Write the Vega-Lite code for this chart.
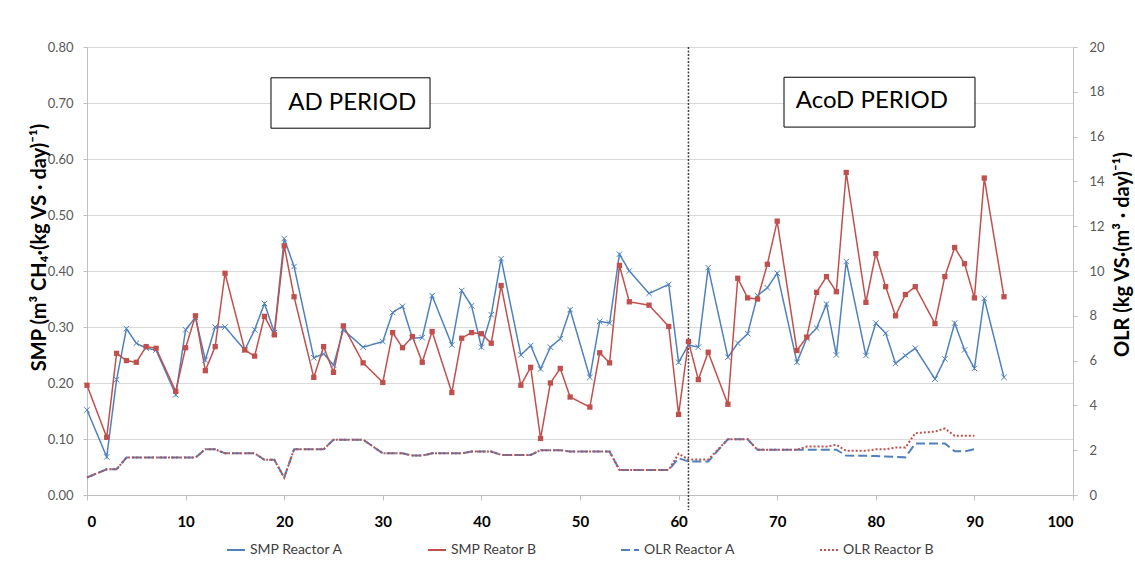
{
  "$schema": "https://vega.github.io/schema/vega-lite/v6.json",
  "width": 986,
  "height": 448,
  "autosize": {"type": "none"},
  "padding": {"left": 87, "top": 47, "right": 62, "bottom": 88},
  "background": "white",
  "config": {
    "view": {"stroke": null},
    "font": "Lato",
    "axis": {"labelFont": "Lato", "titleFont": "Lato", "domainColor": "#BFBFBF", "tickColor": "#BFBFBF", "gridColor": "#D9D9D9", "labelColor": "#595959"}
  },
  "datasets": {
    "smp": [
      {"day": 0, "SMP Reactor A": 0.152, "SMP Reator B": 0.196},
      {"day": 2, "SMP Reactor A": 0.068, "SMP Reator B": 0.103},
      {"day": 3, "SMP Reactor A": 0.206, "SMP Reator B": 0.253},
      {"day": 4, "SMP Reactor A": 0.297, "SMP Reator B": 0.240},
      {"day": 5, "SMP Reactor A": 0.271, "SMP Reator B": 0.237},
      {"day": 6, "SMP Reactor A": 0.262, "SMP Reator B": 0.265},
      {"day": 7, "SMP Reactor A": 0.259, "SMP Reator B": 0.262},
      {"day": 9, "SMP Reactor A": 0.179, "SMP Reator B": 0.185},
      {"day": 10, "SMP Reactor A": 0.295, "SMP Reator B": 0.263},
      {"day": 11, "SMP Reactor A": 0.317, "SMP Reator B": 0.320},
      {"day": 12, "SMP Reactor A": 0.241, "SMP Reator B": 0.222},
      {"day": 13, "SMP Reactor A": 0.300, "SMP Reator B": 0.265},
      {"day": 14, "SMP Reactor A": 0.300, "SMP Reator B": 0.396},
      {"day": 16, "SMP Reactor A": 0.259, "SMP Reator B": 0.259},
      {"day": 17, "SMP Reactor A": 0.295, "SMP Reator B": 0.248},
      {"day": 18, "SMP Reactor A": 0.342, "SMP Reator B": 0.319},
      {"day": 19, "SMP Reactor A": 0.290, "SMP Reator B": 0.286},
      {"day": 20, "SMP Reactor A": 0.458, "SMP Reator B": 0.445},
      {"day": 21, "SMP Reactor A": 0.408, "SMP Reator B": 0.354},
      {"day": 23, "SMP Reactor A": 0.245, "SMP Reator B": 0.210},
      {"day": 24, "SMP Reactor A": 0.252, "SMP Reator B": 0.265},
      {"day": 25, "SMP Reactor A": 0.232, "SMP Reator B": 0.219},
      {"day": 26, "SMP Reactor A": 0.295, "SMP Reator B": 0.302},
      {"day": 28, "SMP Reactor A": 0.264, "SMP Reator B": 0.236},
      {"day": 30, "SMP Reactor A": 0.274, "SMP Reator B": 0.201},
      {"day": 31, "SMP Reactor A": 0.326, "SMP Reator B": 0.290},
      {"day": 32, "SMP Reactor A": 0.337, "SMP Reator B": 0.263},
      {"day": 33, "SMP Reactor A": 0.280, "SMP Reator B": 0.283},
      {"day": 34, "SMP Reactor A": 0.281, "SMP Reator B": 0.237},
      {"day": 35, "SMP Reactor A": 0.356, "SMP Reator B": 0.292},
      {"day": 37, "SMP Reactor A": 0.268, "SMP Reator B": 0.183},
      {"day": 38, "SMP Reactor A": 0.365, "SMP Reator B": 0.280},
      {"day": 39, "SMP Reactor A": 0.338, "SMP Reator B": 0.290},
      {"day": 40, "SMP Reactor A": 0.264, "SMP Reator B": 0.288},
      {"day": 41, "SMP Reactor A": 0.322, "SMP Reator B": 0.271},
      {"day": 42, "SMP Reactor A": 0.422, "SMP Reator B": 0.374},
      {"day": 44, "SMP Reactor A": 0.250, "SMP Reator B": 0.196},
      {"day": 45, "SMP Reactor A": 0.267, "SMP Reator B": 0.228},
      {"day": 46, "SMP Reactor A": 0.225, "SMP Reator B": 0.101},
      {"day": 47, "SMP Reactor A": 0.264, "SMP Reator B": 0.200},
      {"day": 48, "SMP Reactor A": 0.279, "SMP Reator B": 0.226},
      {"day": 49, "SMP Reactor A": 0.331, "SMP Reator B": 0.175},
      {"day": 51, "SMP Reactor A": 0.210, "SMP Reator B": 0.157},
      {"day": 52, "SMP Reactor A": 0.310, "SMP Reator B": 0.254},
      {"day": 53, "SMP Reactor A": 0.307, "SMP Reator B": 0.236},
      {"day": 54, "SMP Reactor A": 0.430, "SMP Reator B": 0.410},
      {"day": 55, "SMP Reactor A": 0.400, "SMP Reator B": 0.345},
      {"day": 57, "SMP Reactor A": 0.360, "SMP Reator B": 0.339},
      {"day": 59, "SMP Reactor A": 0.376, "SMP Reator B": 0.301},
      {"day": 60, "SMP Reactor A": 0.237, "SMP Reator B": 0.144},
      {"day": 61, "SMP Reactor A": 0.268, "SMP Reator B": 0.274},
      {"day": 62, "SMP Reactor A": 0.264, "SMP Reator B": 0.206},
      {"day": 63, "SMP Reactor A": 0.406, "SMP Reator B": 0.255},
      {"day": 65, "SMP Reactor A": 0.246, "SMP Reator B": 0.162},
      {"day": 66, "SMP Reactor A": 0.271, "SMP Reator B": 0.387},
      {"day": 67, "SMP Reactor A": 0.288, "SMP Reator B": 0.352},
      {"day": 68, "SMP Reactor A": 0.356, "SMP Reator B": 0.350},
      {"day": 69, "SMP Reactor A": 0.370, "SMP Reator B": 0.412},
      {"day": 70, "SMP Reactor A": 0.396, "SMP Reator B": 0.489},
      {"day": 72, "SMP Reactor A": 0.237, "SMP Reator B": 0.258},
      {"day": 73, "SMP Reactor A": 0.280, "SMP Reator B": 0.282},
      {"day": 74, "SMP Reactor A": 0.298, "SMP Reator B": 0.362},
      {"day": 75, "SMP Reactor A": 0.341, "SMP Reator B": 0.390},
      {"day": 76, "SMP Reactor A": 0.250, "SMP Reator B": 0.363},
      {"day": 77, "SMP Reactor A": 0.417, "SMP Reator B": 0.576},
      {"day": 79, "SMP Reactor A": 0.249, "SMP Reator B": 0.344},
      {"day": 80, "SMP Reactor A": 0.307, "SMP Reator B": 0.431},
      {"day": 81, "SMP Reactor A": 0.289, "SMP Reator B": 0.372},
      {"day": 82, "SMP Reactor A": 0.235, "SMP Reator B": 0.320},
      {"day": 83, "SMP Reactor A": 0.249, "SMP Reator B": 0.358},
      {"day": 84, "SMP Reactor A": 0.262, "SMP Reator B": 0.372},
      {"day": 86, "SMP Reactor A": 0.207, "SMP Reator B": 0.306},
      {"day": 87, "SMP Reactor A": 0.243, "SMP Reator B": 0.390},
      {"day": 88, "SMP Reactor A": 0.307, "SMP Reator B": 0.442},
      {"day": 89, "SMP Reactor A": 0.259, "SMP Reator B": 0.413},
      {"day": 90, "SMP Reactor A": 0.226, "SMP Reator B": 0.352},
      {"day": 91, "SMP Reactor A": 0.351, "SMP Reator B": 0.566},
      {"day": 93, "SMP Reactor A": 0.210, "SMP Reator B": 0.354}
    ],
    "olr": [
      {"day": 0, "OLR Reactor A": 0.78, "OLR Reactor B": 0.78},
      {"day": 2, "OLR Reactor A": 1.15, "OLR Reactor B": 1.15},
      {"day": 3, "OLR Reactor A": 1.15, "OLR Reactor B": 1.15},
      {"day": 4, "OLR Reactor A": 1.67, "OLR Reactor B": 1.67},
      {"day": 11, "OLR Reactor A": 1.67, "OLR Reactor B": 1.67},
      {"day": 12, "OLR Reactor A": 2.04, "OLR Reactor B": 2.04},
      {"day": 13, "OLR Reactor A": 2.04, "OLR Reactor B": 2.04},
      {"day": 14, "OLR Reactor A": 1.86, "OLR Reactor B": 1.86},
      {"day": 17, "OLR Reactor A": 1.86, "OLR Reactor B": 1.86},
      {"day": 18, "OLR Reactor A": 1.57, "OLR Reactor B": 1.57},
      {"day": 19, "OLR Reactor A": 1.57, "OLR Reactor B": 1.57},
      {"day": 20, "OLR Reactor A": 0.78, "OLR Reactor B": 0.78},
      {"day": 21, "OLR Reactor A": 2.04, "OLR Reactor B": 2.04},
      {"day": 24, "OLR Reactor A": 2.04, "OLR Reactor B": 2.04},
      {"day": 25, "OLR Reactor A": 2.47, "OLR Reactor B": 2.47},
      {"day": 28, "OLR Reactor A": 2.47, "OLR Reactor B": 2.47},
      {"day": 30, "OLR Reactor A": 1.86, "OLR Reactor B": 1.86},
      {"day": 32, "OLR Reactor A": 1.86, "OLR Reactor B": 1.86},
      {"day": 33, "OLR Reactor A": 1.76, "OLR Reactor B": 1.76},
      {"day": 34, "OLR Reactor A": 1.76, "OLR Reactor B": 1.76},
      {"day": 35, "OLR Reactor A": 1.86, "OLR Reactor B": 1.86},
      {"day": 38, "OLR Reactor A": 1.86, "OLR Reactor B": 1.86},
      {"day": 39, "OLR Reactor A": 1.94, "OLR Reactor B": 1.94},
      {"day": 41, "OLR Reactor A": 1.94, "OLR Reactor B": 1.94},
      {"day": 42, "OLR Reactor A": 1.79, "OLR Reactor B": 1.79},
      {"day": 45, "OLR Reactor A": 1.79, "OLR Reactor B": 1.79},
      {"day": 46, "OLR Reactor A": 2.0, "OLR Reactor B": 2.0},
      {"day": 48, "OLR Reactor A": 2.0, "OLR Reactor B": 2.0},
      {"day": 49, "OLR Reactor A": 1.94, "OLR Reactor B": 1.94},
      {"day": 53, "OLR Reactor A": 1.94, "OLR Reactor B": 1.94},
      {"day": 54, "OLR Reactor A": 1.12, "OLR Reactor B": 1.12},
      {"day": 59, "OLR Reactor A": 1.12, "OLR Reactor B": 1.12},
      {"day": 60, "OLR Reactor A": 1.64, "OLR Reactor B": 1.85},
      {"day": 61, "OLR Reactor A": 1.50, "OLR Reactor B": 1.58},
      {"day": 63, "OLR Reactor A": 1.50, "OLR Reactor B": 1.58},
      {"day": 65, "OLR Reactor A": 2.49, "OLR Reactor B": 2.49},
      {"day": 67, "OLR Reactor A": 2.49, "OLR Reactor B": 2.49},
      {"day": 68, "OLR Reactor A": 2.02, "OLR Reactor B": 2.02},
      {"day": 72, "OLR Reactor A": 2.02, "OLR Reactor B": 2.02},
      {"day": 73, "OLR Reactor A": 2.02, "OLR Reactor B": 2.16},
      {"day": 75, "OLR Reactor A": 2.02, "OLR Reactor B": 2.16},
      {"day": 76, "OLR Reactor A": 2.02, "OLR Reactor B": 2.24},
      {"day": 77, "OLR Reactor A": 1.76, "OLR Reactor B": 1.97},
      {"day": 79, "OLR Reactor A": 1.75, "OLR Reactor B": 1.97},
      {"day": 80, "OLR Reactor A": 1.74, "OLR Reactor B": 2.04},
      {"day": 81, "OLR Reactor A": 1.72, "OLR Reactor B": 2.04},
      {"day": 82, "OLR Reactor A": 1.70, "OLR Reactor B": 2.12},
      {"day": 83, "OLR Reactor A": 1.68, "OLR Reactor B": 2.12},
      {"day": 84, "OLR Reactor A": 2.30, "OLR Reactor B": 2.76},
      {"day": 86, "OLR Reactor A": 2.30, "OLR Reactor B": 2.83},
      {"day": 87, "OLR Reactor A": 2.30, "OLR Reactor B": 2.97},
      {"day": 88, "OLR Reactor A": 1.95, "OLR Reactor B": 2.64},
      {"day": 89, "OLR Reactor A": 1.95, "OLR Reactor B": 2.64},
      {"day": 90, "OLR Reactor A": 2.05, "OLR Reactor B": 2.64}
    ],
    "boxes": [
      {"label": "AD PERIOD", "x1": 18.66, "x2": 34.79, "y1": 0.745, "y2": 0.655, "xm": 26.9, "ym": 0.700},
      {"label": "AcoD PERIOD", "x1": 70.69, "x2": 90.06, "y1": 0.746, "y2": 0.657, "xm": 79.6, "ym": 0.703}
    ],
    "vline": [
      {"day": 61, "top": 0.8, "bottom": -0.027}
    ]
  },
  "layer": [
    {
      "layer": [
        {
          "data": {"name": "boxes"},
          "mark": {"type": "rect", "fill": "white", "stroke": "#000000", "strokeWidth": 1},
          "encoding": {
            "x": {"field": "x1", "type": "quantitative", "scale": {"domain": [0, 100], "nice": false}, "title": null},
            "x2": {"field": "x2"},
            "y": {"field": "y1", "type": "quantitative", "scale": {"domain": [0, 0.8], "nice": false}, "title": "SMP (m³ CH₄·(kg VS · day)⁻¹)"},
            "y2": {"field": "y2"}
          }
        },
        {
          "data": {"name": "boxes"},
          "mark": {"type": "text", "font": "Lato", "fontSize": 24, "color": "#000000", "align": "center", "baseline": "middle"},
          "encoding": {
            "x": {"field": "xm", "type": "quantitative", "scale": {"domain": [0, 100], "nice": false}, "title": null},
            "y": {"field": "ym", "type": "quantitative", "scale": {"domain": [0, 0.8], "nice": false}, "title": "SMP (m³ CH₄·(kg VS · day)⁻¹)"},
            "text": {"field": "label"}
          }
        },
        {
          "data": {"name": "vline"},
          "mark": {"type": "rule", "color": "#404040", "strokeWidth": 1.5, "strokeDash": [2, 1.5]},
          "encoding": {
            "x": {"field": "day", "type": "quantitative", "scale": {"domain": [0, 100], "nice": false}, "title": null},
            "y": {"field": "top", "type": "quantitative", "scale": {"domain": [0, 0.8], "nice": false}, "title": "SMP (m³ CH₄·(kg VS · day)⁻¹)"},
            "y2": {"field": "bottom"}
          }
        },
        {
          "data": {"name": "smp"},
          "transform": [{"fold": ["SMP Reactor A", "SMP Reator B"], "as": ["series", "value"]}],
          "mark": {"type": "line", "strokeWidth": 1.5},
          "encoding": {
            "x": {
              "field": "day", "type": "quantitative", "scale": {"domain": [0, 100], "nice": false}, "title": null,
              "axis": {"values": [0, 10, 20, 30, 40, 50, 60, 70, 80, 90, 100], "grid": false, "labelFontWeight": "bold", "labelFontSize": 15, "labelColor": "#000000", "tickSize": 5, "labelPadding": 14}
            },
            "y": {
              "field": "value", "type": "quantitative", "scale": {"domain": [0, 0.8], "nice": false}, "title": "SMP (m³ CH₄·(kg VS · day)⁻¹)",
              "axis": {"values": [0, 0.1, 0.2, 0.3, 0.4, 0.5, 0.6, 0.7, 0.8], "format": ".2f", "grid": true, "tickSize": 4, "labelPadding": 10, "labelFontSize": 13, "titleFontSize": 20, "titleFontWeight": "bold", "titleColor": "#000000", "titleAngle": 270, "titleX": -48, "titleY": 200, "titleAlign": "center", "titleBaseline": "middle"}
            },
            "color": {
              "field": "series", "type": "nominal",
              "scale": {"domain": ["SMP Reactor A", "SMP Reator B", "OLR Reactor A", "OLR Reactor B"], "range": ["#4F81BD", "#C0504D", "#4F81BD", "#C0504D"]},
              "legend": {"title": null, "orient": "none", "legendX": 139, "legendY": 493, "direction": "horizontal", "columns": 4, "symbolType": "stroke", "symbolSize": 324, "symbolStrokeWidth": 2, "labelFontSize": 14, "labelColor": "#404040", "labelFont": "Lato", "columnPadding": 80}
            },
            "strokeDash": {
              "field": "series", "type": "nominal",
              "scale": {"domain": ["SMP Reactor A", "SMP Reator B", "OLR Reactor A", "OLR Reactor B"], "range": [[1, 0], [1, 0], [9, 4], [2, 2]]},
              "legend": {"title": null, "orient": "none", "legendX": 139, "legendY": 493, "direction": "horizontal", "columns": 4, "symbolType": "stroke", "symbolSize": 324, "symbolStrokeWidth": 2, "labelFontSize": 14, "labelColor": "#404040", "labelFont": "Lato", "columnPadding": 80}
            }
          }
        },
        {
          "data": {"name": "smp"},
          "mark": {"type": "point", "shape": "M-1,-1L1,1M-1,1L1,-1", "filled": false, "size": 30, "strokeWidth": 1, "color": "#4F81BD", "opacity": 1},
          "encoding": {
            "x": {"field": "day", "type": "quantitative", "scale": {"domain": [0, 100], "nice": false}, "title": null},
            "y": {"field": "SMP Reactor A", "type": "quantitative", "scale": {"domain": [0, 0.8], "nice": false}, "title": "SMP (m³ CH₄·(kg VS · day)⁻¹)"}
          }
        },
        {
          "data": {"name": "smp"},
          "mark": {"type": "square", "filled": true, "size": 28, "color": "#C0504D", "opacity": 1},
          "encoding": {
            "x": {"field": "day", "type": "quantitative", "scale": {"domain": [0, 100], "nice": false}, "title": null},
            "y": {"field": "SMP Reator B", "type": "quantitative", "scale": {"domain": [0, 0.8], "nice": false}, "title": "SMP (m³ CH₄·(kg VS · day)⁻¹)"}
          }
        }
      ]
    },
    {
      "data": {"name": "olr"},
      "transform": [{"fold": ["OLR Reactor A", "OLR Reactor B"], "as": ["series", "value"]}],
      "mark": {"type": "line", "strokeWidth": 2},
      "encoding": {
        "x": {"field": "day", "type": "quantitative", "scale": {"domain": [0, 100], "nice": false}, "title": null},
        "y": {
          "field": "value", "type": "quantitative", "scale": {"domain": [0, 20], "nice": false}, "title": "OLR  (kg VS·(m³ · day)⁻¹)",
          "axis": {"orient": "right", "values": [0, 2, 4, 6, 8, 10, 12, 14, 16, 18, 20], "grid": false, "tickSize": 4, "labelPadding": 12, "labelFontSize": 13, "titleFontSize": 20, "titleFontWeight": "bold", "titleColor": "#000000", "titleAngle": 270, "titleX": 49, "titleY": 207, "titleAlign": "center", "titleBaseline": "middle"}
        },
        "color": {
          "field": "series", "type": "nominal",
          "scale": {"domain": ["SMP Reactor A", "SMP Reator B", "OLR Reactor A", "OLR Reactor B"], "range": ["#4F81BD", "#C0504D", "#4F81BD", "#C0504D"]},
          "legend": {"title": null, "orient": "none", "legendX": 139, "legendY": 493, "direction": "horizontal", "columns": 4, "symbolType": "stroke", "symbolSize": 324, "symbolStrokeWidth": 2, "labelFontSize": 14, "labelColor": "#404040", "labelFont": "Lato", "columnPadding": 80}
        },
        "strokeDash": {
          "field": "series", "type": "nominal",
          "scale": {"domain": ["SMP Reactor A", "SMP Reator B", "OLR Reactor A", "OLR Reactor B"], "range": [[1, 0], [1, 0], [9, 4], [2, 2]]},
          "legend": {"title": null, "orient": "none", "legendX": 139, "legendY": 493, "direction": "horizontal", "columns": 4, "symbolType": "stroke", "symbolSize": 324, "symbolStrokeWidth": 2, "labelFontSize": 14, "labelColor": "#404040", "labelFont": "Lato", "columnPadding": 80}
        }
      }
    }
  ],
  "resolve": {"scale": {"y": "independent"}}
}
